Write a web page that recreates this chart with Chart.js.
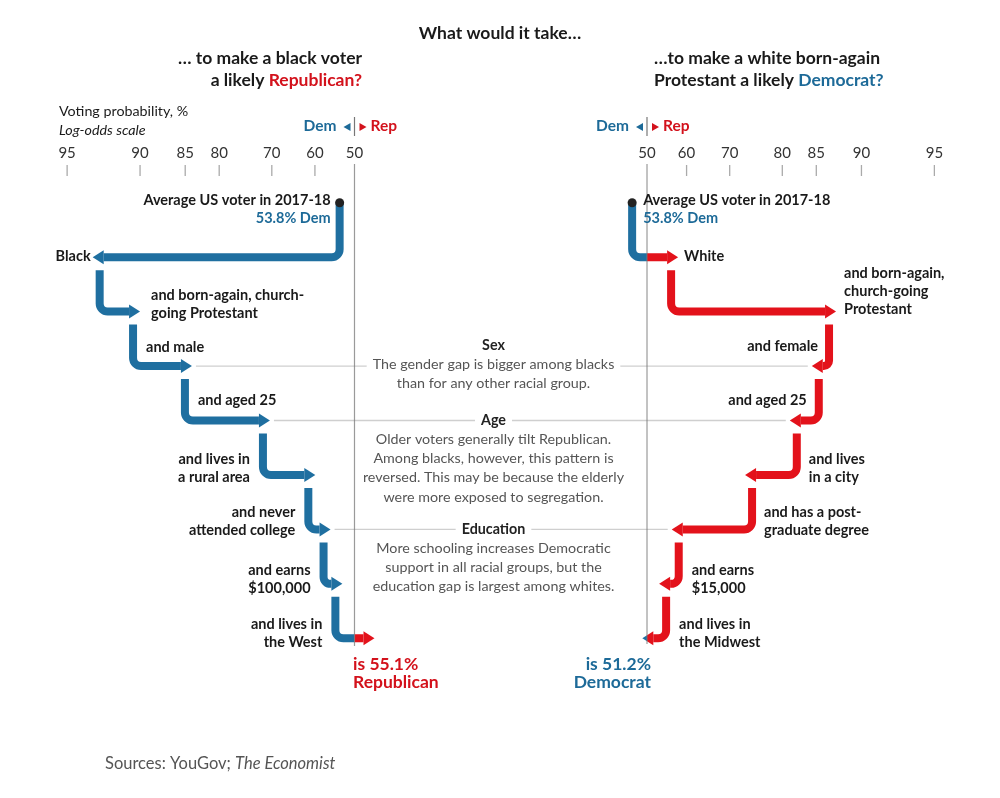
<!DOCTYPE html>
<html>
<head>
<meta charset="utf-8">
<script src="https://cdn.jsdelivr.net/npm/chart.js@4.4.1/dist/chart.umd.min.js"></script>
<style>
  html, body { margin: 0; padding: 0; background: #fff; }
  canvas { display: block; }
</style>
</head>
<body>
<canvas id="chart" width="1000" height="798"></canvas>
<script>
// ---- data ----
// tick labels (voting probability, %) shown on each log-odds axis
const tickLabels = [95, 90, 85, 80, 70, 60, 50];

// left panel: black voter -> Republican. Values are Republican share, %
const leftSteps = [
    ['Average US voter in 2017-18', '53.8% Dem'],
    ['Black'],
    ['and born-again, church-', 'going Protestant'],
    ['and male'],
    ['and aged 25'],
    ['and lives in', 'a rural area'],
    ['and never', 'attended college'],
    ['and earns', '$100,000'],
    ['and lives in', 'the West']
];
const leftRepShare = [46.2, 6.4, 10.0, 15.9, 29.6, 40.1, 43.9, 46.9, 55.1];
const leftResult = ['is 55.1%', 'Republican'];

// right panel: white born-again Protestant -> Democrat. Republican share, %
const rightSteps = [
    ['Average US voter in 2017-18', '53.8% Dem'],
    ['White'],
    ['and born-again,', 'church-going', 'Protestant'],
    ['and female'],
    ['and aged 25'],
    ['and lives', 'in a city'],
    ['and has a post-', 'graduate degree'],
    ['and earns', '$15,000'],
    ['and lives in', 'the Midwest']
];
const rightRepShare = [46.2, 57.9, 87.4, 84.4, 81.2, 73.2, 56.3, 53.1, 48.8];
const rightResult = ['is 51.2%', 'Democrat'];

// notes in the middle, tied to a step row
const noteRows = [3, 4, 6];
const noteTitles = ['Sex', 'Age', 'Education'];
const noteTexts = [
    ['The gender gap is bigger among blacks', 'than for any other racial group.'],
    ['Older voters generally tilt Republican.', 'Among blacks, however, this pattern is',
     'reversed. This may be because the elderly', 'were more exposed to segregation.'],
    ['More schooling increases Democratic', 'support in all racial groups, but the',
     'education gap is largest among whites.']
];

// ---- layout / style ----
const W = 1000, H = 798;
const PX_PER_UNIT = 97.6;       // pixels per log-odds unit
const LEFT_ZERO = 354.5;        // where 50% sits in each panel
const RIGHT_ZERO = 647;
const ROW0 = 202.7, ROW_GAP = 54.45;
const BLUE = '#1f6fa0', RED = '#e3121b';
const TXT_BLUE = '#1d6a98', TXT_RED = '#d3121c';
const INK = '#1a1a1a', GREY_TXT = '#555';
const FONT = 'Lato, "Open Sans", sans-serif';
const LABEL_FONT = 'bold 14.5px ' + FONT;
const NOTE_PX = '14.3px ';
const LINE_W = 8, HEAD_LEN = 11, HEAD_HALF = 7, CORNER = 8, INSET = 7;

// label placement per step: anchor (dot / tip / vert), dx, align, first-line dy
const leftSpots = [
    { at: 'dot', dx: -9, align: 'right', dy: -2 },
    { at: 'tip', dx: -2, align: 'right', dy: -1 },
    { at: 'tip', dx: 11, align: 'left', dy: -16 },
    { at: 'vert', dx: 13, align: 'left', dy: -19 },
    { at: 'vert', dx: 13, align: 'left', dy: -20 },
    { at: 'vert', dx: -13, align: 'right', dy: -16 },
    { at: 'vert', dx: -13, align: 'right', dy: -17 },
    { at: 'vert', dx: -13, align: 'right', dy: -14 },
    { at: 'vert', dx: -13, align: 'right', dy: -14 }
];
const rightSpots = [
    { at: 'dot', dx: 11, align: 'left', dy: -2 },
    { at: 'tip', dx: 6, align: 'left', dy: -1 },
    { at: 'tip', dx: 8, align: 'left', dy: -38 },
    { at: 'vert', dx: -11, align: 'right', dy: -20 },
    { at: 'vert', dx: -12, align: 'right', dy: -20 },
    { at: 'vert', dx: 12, align: 'left', dy: -16 },
    { at: 'vert', dx: 12, align: 'left', dy: -17 },
    { at: 'vert', dx: 13, align: 'left', dy: -14 },
    { at: 'vert', dx: 13, align: 'left', dy: -14 }
];

const logit = p => Math.log(p / (100 - p));

function text(ctx, s, x, y, font, color, align) {
    ctx.font = font;
    ctx.fillStyle = color;
    ctx.textAlign = align || 'left';
    ctx.textBaseline = 'middle';
    ctx.fillText(s, x, y);
}

function rich(ctx, parts, x, y, align) {
    let w = 0;
    parts.forEach(p => { ctx.font = p.font; p.w = ctx.measureText(p.t).width; w += p.w; });
    let cx = align === 'right' ? x - w : align === 'center' ? x - w / 2 : x;
    ctx.textAlign = 'left';
    ctx.textBaseline = 'middle';
    parts.forEach(p => { ctx.font = p.font; ctx.fillStyle = p.color; ctx.fillText(p.t, cx, y); cx += p.w; });
}

// geometry of one panel's step path, from the library's own points
function panelGeometry(chart, k) {
    const meta = chart.getDatasetMeta(k);
    const pts = meta.data.map(el => ({ x: el.x, y: el.y }));
    const zero = chart.scales[meta.xAxisID].getPixelForValue(0);
    const steps = [];
    let prevDir = 0;
    for (let i = 1; i < pts.length; i++) {
        const prev = pts[i - 1], cur = pts[i];
        const vx = i === 1 ? prev.x : prev.x - prevDir * INSET;
        const y0 = i === 1 ? prev.y : prev.y + 13;
        const dir = cur.x >= vx ? 1 : -1;
        steps.push({ vx, y0, tip: cur.x, y: cur.y, dir });
        prevDir = dir;
    }
    return { pts, zero, steps };
}

function tracePath(ctx, s) {
    const dx = Math.abs(s.tip - s.vx);
    const r = Math.max(2, Math.min(CORNER, dx - HEAD_LEN - 1));
    ctx.beginPath();
    ctx.moveTo(s.vx, s.y0);
    ctx.lineTo(s.vx, s.y - r);
    ctx.arcTo(s.vx, s.y, s.vx + s.dir * r, s.y, r);
    ctx.lineTo(s.tip - s.dir * HEAD_LEN, s.y);
    ctx.stroke();
    ctx.beginPath();
    ctx.moveTo(s.tip, s.y);
    ctx.lineTo(s.tip - s.dir * HEAD_LEN, s.y - HEAD_HALF);
    ctx.lineTo(s.tip - s.dir * HEAD_LEN, s.y + HEAD_HALF);
    ctx.closePath();
    ctx.fill();
}

function drawArrows(chart, k) {
    const ctx = chart.ctx;
    const g = panelGeometry(chart, k);
    [[0, g.zero, BLUE], [g.zero, W, RED]].forEach(([a, b, col]) => {
        ctx.save();
        ctx.beginPath();
        ctx.rect(a, 0, b - a, H);
        ctx.clip();
        ctx.strokeStyle = col;
        ctx.fillStyle = col;
        ctx.lineWidth = LINE_W;
        ctx.lineCap = 'butt';
        ctx.lineJoin = 'miter';
        g.steps.forEach(s => tracePath(ctx, s));
        ctx.restore();
    });
}

function drawAxisTicks(chart) {
    const ctx = chart.ctx;
    [['xL', -1], ['xR', 1]].forEach(([id, side]) => {
        const sc = chart.scales[id];
        const zero = sc.getPixelForValue(0);
        tickLabels.forEach(t => {
            const rep = side < 0 ? 100 - t : t;
            const x = t === 50 ? zero : sc.getPixelForValue(logit(rep));
            text(ctx, String(t), x, 153.5, '15px ' + FONT, '#333', 'center');
            if (t !== 50) {
                ctx.strokeStyle = '#aaa';
                ctx.lineWidth = 1.3;
                ctx.beginPath();
                ctx.moveTo(x, 165);
                ctx.lineTo(x, 176);
                ctx.stroke();
            }
        });
        // Dem | Rep marker
        ctx.strokeStyle = '#777';
        ctx.lineWidth = 1.2;
        ctx.beginPath();
        ctx.moveTo(zero, 117);
        ctx.lineTo(zero, 136);
        ctx.stroke();
        text(ctx, 'Dem', zero - 18, 126, 'bold 15.5px ' + FONT, TXT_BLUE, 'right');
        text(ctx, 'Rep', zero + 16, 126, 'bold 15.5px ' + FONT, TXT_RED, 'left');
        ctx.fillStyle = TXT_BLUE;
        ctx.beginPath();
        ctx.moveTo(zero - 11, 127);
        ctx.lineTo(zero - 4, 123);
        ctx.lineTo(zero - 4, 131);
        ctx.closePath();
        ctx.fill();
        ctx.fillStyle = TXT_RED;
        ctx.beginPath();
        ctx.moveTo(zero + 12, 127);
        ctx.lineTo(zero + 5, 123);
        ctx.lineTo(zero + 5, 131);
        ctx.closePath();
        ctx.fill();
    });
}

function drawFiftyLines(chart) {
    const ctx = chart.ctx;
    [['xL', 646], ['xR', 644]].forEach(([id, end]) => {
        const x = chart.scales[id].getPixelForValue(0);
        ctx.strokeStyle = 'rgba(120,120,120,0.75)';
        ctx.lineWidth = 1.2;
        ctx.beginPath();
        ctx.moveTo(x, 164);
        ctx.lineTo(x, end);
        ctx.stroke();
    });
}

function drawNotes(chart) {
    const ctx = chart.ctx;
    const gl = panelGeometry(chart, 0), gr = panelGeometry(chart, 1);
    const cx = 493.5, lh = 19.3;
    noteRows.forEach((row, n) => {
        const y = gl.pts[row].y;
        // connector between the two arrow tips
        ctx.strokeStyle = '#cfcfcf';
        ctx.lineWidth = 1.3;
        ctx.beginPath();
        ctx.moveTo(gl.pts[row].x + 4, y);
        ctx.lineTo(gr.pts[row].x - 4, y);
        ctx.stroke();
        const lines = [{ t: noteTitles[n], font: 'bold ' + NOTE_PX + FONT, color: '#222' }]
            .concat(noteTexts[n].map(t => ({ t, font: NOTE_PX + FONT, color: GREY_TXT })));
        // Sex title sits above the line; the others sit on it
        lines.forEach((l, j) => {
            const ly = n === 0 ? (j === 0 ? y - 21 : y - 2 + (j - 1) * lh) : (j === 0 ? y : y + 18.5 + (j - 1) * lh);
            ctx.font = l.font;
            const w = ctx.measureText(l.t).width;
            if (Math.abs(ly - y) < 8) {
                ctx.fillStyle = '#fff';
                ctx.fillRect(cx - w / 2 - 6, y - 3, w + 12, 6);
            }
            text(ctx, l.t, cx, ly, l.font, l.color, 'center');
        });
    });
}

function drawStepLabels(chart) {
    const ctx = chart.ctx;
    [[0, leftSteps, leftSpots, leftResult, TXT_RED, 'left', -1.5],
     [1, rightSteps, rightSpots, rightResult, TXT_BLUE, 'right', 4]].forEach(([k, labels, spots, result, resCol, resAlign, resDx]) => {
        const g = panelGeometry(chart, k);
        labels.forEach((lines, i) => {
            const sp = spots[i];
            const p = g.pts[i];
            let ax;
            if (sp.at === 'dot') ax = p.x;
            else if (sp.at === 'tip') ax = g.steps[i - 1].tip;
            else ax = g.steps[i - 1].vx;
            lines.forEach((l, j) => {
                const col = (i === 0 && j === 1) ? TXT_BLUE : INK;
                text(ctx, l, ax + sp.dx, p.y + sp.dy + j * 18, LABEL_FONT, col, sp.align);
            });
        });
        const last = g.pts[g.pts.length - 1];
        result.forEach((l, j) => {
            text(ctx, l, g.zero + resDx, last.y + 26 + j * 18.5, 'bold 17.5px ' + FONT, resCol, resAlign);
        });
    });
}

function drawHeader(chart) {
    const ctx = chart.ctx;
    const B = 'bold 17.5px ' + FONT;
    text(ctx, 'What would it take\u2026', 500, 33, B, INK, 'center');
    text(ctx, '\u2026 to make a black voter', 362, 58, B, INK, 'right');
    rich(ctx, [{ t: 'a likely ', font: B, color: INK }, { t: 'Republican?', font: B, color: TXT_RED }], 362, 80, 'right');
    text(ctx, '\u2026to make a white born-again', 654, 58, B, INK, 'left');
    rich(ctx, [{ t: 'Protestant a likely ', font: B, color: INK }, { t: 'Democrat?', font: B, color: TXT_BLUE }], 654, 80, 'left');
    text(ctx, 'Voting probability, %', 59, 111.5, '14.3px ' + FONT, INK, 'left');
    text(ctx, 'Log-odds scale', 59, 130, 'italic 14.3px ' + FONT, INK, 'left');
    rich(ctx, [{ t: 'Sources: YouGov; ', font: '16.5px ' + FONT, color: GREY_TXT },
               { t: 'The Economist', font: 'italic 16.5px ' + FONT, color: GREY_TXT }], 105, 764, 'left');
}

const layers = {
    id: 'layers',
    beforeDatasetsDraw(chart) {
        drawNotes(chart);
        drawAxisTicks(chart);
        drawArrows(chart, 0);
        drawArrows(chart, 1);
        drawFiftyLines(chart);
    },
    afterDatasetsDraw(chart) {
        drawStepLabels(chart);
        drawHeader(chart);
    }
};

const pointsFrom = shares => shares.map((v, i) => ({ x: logit(v), y: i }));

new Chart(document.getElementById('chart'), {
    type: 'scatter',
    data: {
        datasets: [
            {
                label: 'Black voter',
                data: pointsFrom(leftRepShare),
                xAxisID: 'xL',
                yAxisID: 'y',
                pointRadius: c => c.dataIndex === 0 ? 4.5 : 0,
                pointBackgroundColor: '#222',
                pointBorderWidth: 0
            },
            {
                label: 'White born-again Protestant',
                data: pointsFrom(rightRepShare),
                xAxisID: 'xR',
                yAxisID: 'y',
                pointRadius: c => c.dataIndex === 0 ? 4.5 : 0,
                pointBackgroundColor: '#222',
                pointBorderWidth: 0
            }
        ]
    },
    options: {
        responsive: false,
        animation: false,
        devicePixelRatio: 1,
        layout: { padding: 0, autoPadding: false },
        plugins: { legend: { display: false }, tooltip: { enabled: false } },
        scales: {
            xL: { type: 'linear', display: false, min: -LEFT_ZERO / PX_PER_UNIT, max: (W - LEFT_ZERO) / PX_PER_UNIT },
            xR: { type: 'linear', display: false, min: -RIGHT_ZERO / PX_PER_UNIT, max: (W - RIGHT_ZERO) / PX_PER_UNIT },
            y: { type: 'linear', display: false, reverse: true, min: -ROW0 / ROW_GAP, max: (H - ROW0) / ROW_GAP }
        }
    },
    plugins: [layers]
});
</script>
</body>
</html>
